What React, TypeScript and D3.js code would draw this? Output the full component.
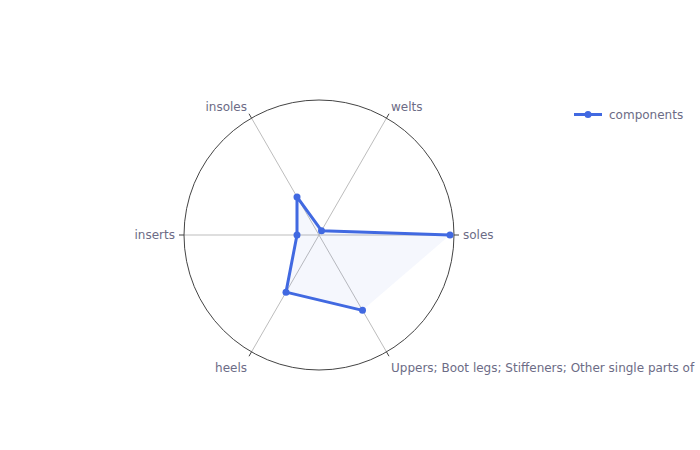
import React from "react";
import * as d3 from "d3";

const categories = ["soles", "welts", "insoles", "inserts", "heels", "Uppers; Boot legs; Stiffeners; Other single parts of"];
const values = [131, 5, 44, 22, 66, 87];
const radialMax = 135;
const seriesName = "components";

const W = 700;
const H = 450;
const cx = 319;
const cy = 235;
const R = 135;
const color = "#4169E1";
const textColor = "#6c6c86";
const font = '"DejaVu Sans", Verdana, sans-serif';

export default function App() {
  const rScale = d3.scaleLinear().domain([0, radialMax]).range([0, R]);
  const aScale = d3.scaleLinear().domain([0, categories.length]).range([0, 2 * Math.PI]);
  const pt = (i: number, r: number): [number, number] => {
    const a = aScale(i);
    return [cx + r * Math.cos(a), cy - r * Math.sin(a)];
  };
  const pts = values.map((v, i) => pt(i, rScale(v)));
  const line = d3.line<[number, number]>().x((d) => d[0]).y((d) => d[1]);
  const linePath = line(pts) || "";
  const fillPath = linePath + "Z";

  return (
    <svg width={W} height={H} style={{ position: "absolute", left: 0, top: 0, background: "#fff" }} fontFamily={font}>
      <rect x={0} y={0} width={W} height={H} fill="#fff" />
      {categories.map((c, i) => {
        const [x2, y2] = pt(i, R);
        return <line key={"s" + i} x1={cx} y1={cy} x2={x2} y2={y2} stroke="#bdbdbd" strokeWidth={1} />;
      })}
      <circle cx={cx} cy={cy} r={R} fill="none" stroke="#444" strokeWidth={1} />
      {categories.map((c, i) => {
        const [x1, y1] = pt(i, R);
        const [x2, y2] = pt(i, R + 5);
        return <line key={"t" + i} x1={x1} y1={y1} x2={x2} y2={y2} stroke="#444" strokeWidth={1} />;
      })}
      {categories.map((c, i) => {
        const a = aScale(i);
        const cs = Math.cos(a);
        const sn = Math.sin(a);
        const [px, py] = pt(i, R + 9);
        const anchor = cs > 0.1 ? "start" : cs < -0.1 ? "end" : "middle";
        const by = sn > 0.1 ? py + 0.7 : sn < -0.1 ? py + 12 : py + 4.2;
        return (
          <text key={"l" + i} x={px} y={by} textAnchor={anchor} fontSize={12} fill={textColor}>
            {c}
          </text>
        );
      })}
      <path d={fillPath} fill={color} fillOpacity={0.05} stroke="none" />
      <path d={linePath} fill="none" stroke={color} strokeWidth={3} strokeLinejoin="round" />
      {pts.map((p, i) => (
        <circle key={"m" + i} cx={p[0]} cy={p[1]} r={3.5} fill={color} />
      ))}
      <g>
        <line x1={574} y1={114.5} x2={602} y2={114.5} stroke={color} strokeWidth={3} />
        <circle cx={588} cy={114.5} r={3.5} fill={color} />
        <text x={609} y={118.7} fontSize={12} fill={textColor}>
          {seriesName}
        </text>
      </g>
    </svg>
  );
}
